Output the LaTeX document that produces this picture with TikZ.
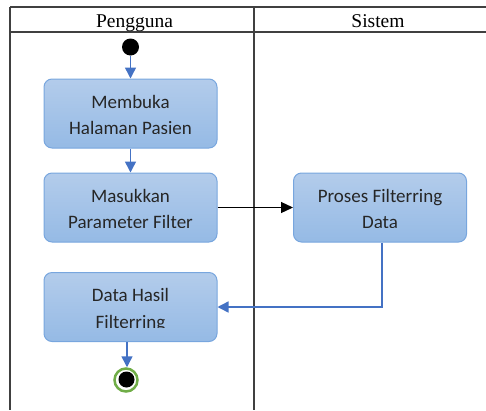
\documentclass[tikz,border=0pt]{standalone}
\usepackage{fontspec}
\setmainfont{Liberation Serif}
\newfontfamily\calib{Carlito}
\usetikzlibrary{arrows.meta}
\definecolor{gridc}{HTML}{404040}
\definecolor{boxtop}{HTML}{B3CCEB}
\definecolor{boxbot}{HTML}{95BAE5}
\definecolor{boxline}{HTML}{78A6DE}
\definecolor{flowc}{HTML}{4472C4}
\definecolor{txtc}{HTML}{262626}
\definecolor{endg}{HTML}{70AD47}
\tikzset{
  grid/.style={draw=gridc, line width=1.3pt},
  hdr/.style={font=\fontsize{19.5}{21}\selectfont, text=black, anchor=base, inner sep=0},
  actbox/.style={draw=boxline, line width=1pt, rounded corners=8pt, top color=boxtop, bottom color=boxbot, minimum width=173pt, minimum height=69pt, inner sep=0},
  lbl/.style={font=\calib\fontsize{19}{21}\selectfont, text=txtc, anchor=base, inner sep=0},
  flow/.style={draw=flowc, line width=1.5pt, -{Triangle[length=11pt,width=11pt]}},
  blk/.style={draw=black, line width=1.2pt, -{Triangle[length=12pt,width=11pt]}},
}
\begin{document}
\begin{tikzpicture}[x=1pt,y=-1pt]
\useasboundingbox (0,0) rectangle (486,410);
% swimlane table
\draw[grid] (10,7) -- (486,7);
\draw[grid] (10,32) -- (486,32);
\draw[grid] (10,7) -- (10,410);
\draw[grid] (254,7) -- (254,410);
\node[hdr] (hp) at (134.5,27) {Pengguna};
\node[hdr] (hs) at (378,27) {Sistem};
% start
\node[circle, fill=black, minimum size=17pt, inner sep=0] (start) at (130.5,47) {};
% boxes
\node[actbox] (b1) at (130.5,113.5) {};
\node[actbox] (b2) at (130.5,207.5) {};
\node[actbox] (b3) at (380,207.5) {};
\node[actbox] (b4) at (130.5,307) {};
% texts (clipped at the bottom like the reference)
\begin{scope}
\clip (44,79) rectangle (217,133.5);
\node[lbl] (t1a) at (130.5,108) {Membuka};
\node[lbl] (t1b) at (130.5,134) {Halaman Pasien};
\end{scope}
\begin{scope}
\clip (44,173) rectangle (217,227.5);
\node[lbl] (t2a) at (130.5,202) {Masukkan};
\node[lbl] (t2b) at (130.5,228) {Parameter Filter};
\end{scope}
\begin{scope}
\clip (293,173) rectangle (467,227.5);
\node[lbl] (t3a) at (380,202) {Proses Filterring};
\node[lbl] (t3b) at (380,228) {Data};
\end{scope}
\begin{scope}
\clip (44,272) rectangle (217,327.5);
\node[lbl] (t4a) at (130.5,301) {Data Hasil};
\node[lbl] (t4b) at (130.5,328) {Filterring};
\end{scope}
% end node
\node[circle, draw=endg, line width=2.5pt, fill=white, minimum size=23pt, inner sep=0] (endn) at (126,380) {};
\node[circle, fill=black, minimum size=16pt, inner sep=0] (endi) at (126.5,379.5) {};
% connectors
\draw[flow] (start) -- (b1);
\draw[flow] (b1) -- (b2);
\draw[blk] (b2.east) -- (b3.west);
\draw[flow] ([xshift=2pt]b3.south) |- (b4.east);
\draw[flow] ([xshift=-3.5pt]b4.south) -- ([xshift=-3.5pt]b4.south |- endn.north);
\end{tikzpicture}
\end{document}
